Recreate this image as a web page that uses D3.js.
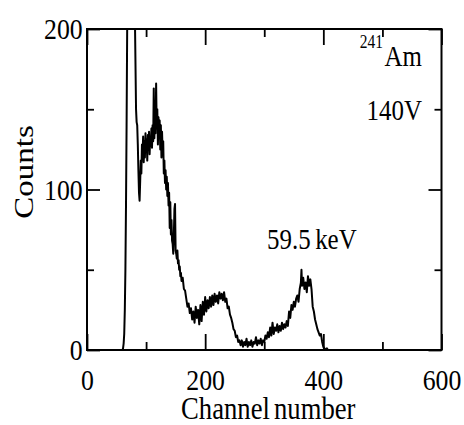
<!DOCTYPE html>
<html>
<head>
<meta charset="utf-8">
<script src="https://cdn.jsdelivr.net/npm/d3@7"></script>
<style>
  body { margin: 0; background: #fff; }
  svg text { font-family: "Liberation Serif", "Times New Roman", serif; fill: #000; }
</style>
</head>
<body>
<div id="chart"></div>
<script>
// spectrum: channel -> counts
const channels = [0, 58, 60, 61, 62, 63, 64, 65, 66, 67, 68, 69, 70, 72, 74, 76, 78, 80, 81, 82, 83, 84, 85, 86, 87, 88, 89,
  90, 91, 92, 93, 94, 95, 96, 97, 98, 99, 100, 101, 102, 103, 104, 105, 106, 107, 108, 109,
  110, 111, 112, 113, 114, 115, 116, 117, 118, 119, 120, 121, 122, 123, 124, 125, 126, 127, 128, 129,
  130, 131, 132, 133, 134, 135, 136, 137, 138, 139, 140, 141, 142, 143, 144, 145, 146, 147, 148, 149,
  150, 151, 152, 153, 154, 155, 156, 157, 158, 159, 160, 162, 164, 166, 168, 170, 172, 174, 176, 178,
  180, 182, 184, 186, 188, 190, 192, 194, 196, 198, 200, 202, 204, 206, 208, 210, 212, 214, 216, 218,
  220, 222, 224, 226, 228, 230, 232, 234, 236, 238, 240, 242, 244, 246, 248, 250, 252, 254, 256, 258,
  260, 262, 264, 266, 268, 270, 272, 274, 276, 278, 280, 282, 284, 286, 288, 290, 292, 294, 296, 298,
  300, 302, 304, 306, 308, 310, 312, 314, 316, 318, 320, 322, 324, 326, 328, 330, 332, 334, 336, 338,
  340, 342, 344, 346, 348, 350, 352, 354, 356, 358, 360, 362, 363, 364, 366, 368, 370, 372, 374, 376, 378,
  380, 382, 384, 386, 388, 390, 392, 394, 396, 398, 400, 402, 404, 406, 408, 600];
const counts = [0, 0, 0, 1, 4, 10, 25, 50, 90, 140, 200, 260, 320, 380, 420, 400, 340, 260, 210, 180, 150, 142, 140, 128, 112, 98, 93,
  105, 118, 110, 128, 122, 133, 117, 130, 120, 135, 124, 131, 118, 134, 125, 136, 122, 133, 127, 138,
  126, 140, 130, 163, 132, 148, 135, 166, 138, 150, 128, 145, 132, 143, 125, 140, 120, 136, 124, 130,
  110, 118, 104, 112, 100, 108, 96, 104, 90, 98, 76, 92, 72, 81, 68, 66, 60, 72, 88, 91,
  62, 60, 57, 62, 54, 56, 50, 52, 46, 48, 43, 45, 38, 37, 32, 27, 29, 23, 26, 19,
  24, 17, 27, 20, 25, 16, 28, 18, 30, 22, 33, 24, 31, 26, 33, 27, 34, 28, 35, 30,
  34, 29, 36, 32, 35, 31, 36, 30, 32, 26, 27, 22, 20, 17, 13, 12, 8, 9, 5, 6,
  3, 6, 2, 5, 3, 7, 2, 5, 3, 6, 2, 5, 4, 8, 3, 6, 4, 7, 3, 6,
  5, 9, 7, 11, 8, 14, 9, 17, 10, 14, 12, 16, 11, 15, 12, 17, 13, 16, 14, 18,
  15, 24, 20, 28, 25, 30, 27, 32, 34, 30, 38, 42, 50, 40, 45, 38, 42, 36, 46, 40, 44,
  38, 27, 24, 19, 16, 13, 11, 9, 10, 5, 2, 1, 0, 1, 0, 0];

const xMajor = [0, 200, 400, 600];
const xMinor = [100, 300, 500];
const yMajor = [0, 100, 200];
const yMinor = [50, 150];

const width = 464, height = 425;
const margin = { top: 29, right: 22.5, bottom: 75, left: 87 };
const innerWidth = width - margin.left - margin.right;
const innerHeight = height - margin.top - margin.bottom;
const squeeze = 0.86; // the original figure is narrowed horizontally

const svg = d3.select("#chart")
  .append("svg")
  .attr("width", width)
  .attr("height", height);

const g = svg.append("g")
  .attr("transform", `translate(${margin.left}, ${margin.top})`);

const xScale = d3.scaleLinear().domain([0, 600]).range([0, innerWidth]);
const yScale = d3.scaleLinear().domain([0, 200]).range([innerHeight, 0]);

g.append("clipPath").attr("id", "plot-clip")
  .append("rect")
  .attr("width", innerWidth)
  .attr("height", innerHeight);

const data = channels.map((c, i) => ({ ch: c, v: counts[i] }));

const line = d3.line()
  .x(d => xScale(d.ch))
  .y(d => yScale(d.v));

g.append("path")
  .datum(data)
  .attr("clip-path", "url(#plot-clip)")
  .attr("fill", "none")
  .attr("stroke", "#000")
  .attr("stroke-width", 2)
  .attr("stroke-linejoin", "round")
  .attr("d", line);

// axes: ticks point inward
function styleAxis(sel) {
  sel.select(".domain").remove();
  sel.selectAll("line").attr("stroke", "#000").attr("stroke-width", 1.8);
}

function noLabels(sel) {
  sel.selectAll("text").remove();
}

g.append("g")
  .attr("transform", `translate(0, ${innerHeight})`)
  .call(d3.axisBottom(xScale).tickValues(xMajor).tickSize(-16).tickPadding(19))
  .call(styleAxis);

g.append("g")
  .attr("transform", `translate(0, ${innerHeight})`)
  .call(d3.axisBottom(xScale).tickValues(xMinor).tickSize(-8))
  .call(styleAxis).call(noLabels);

g.append("g")
  .call(d3.axisTop(xScale).tickValues(xMajor).tickSize(-16))
  .call(styleAxis).call(noLabels);

g.append("g")
  .call(d3.axisTop(xScale).tickValues(xMinor).tickSize(-8))
  .call(styleAxis).call(noLabels);

g.append("g")
  .call(d3.axisLeft(yScale).tickValues(yMajor).tickSize(-13).tickPadding(5))
  .call(styleAxis);

g.append("g")
  .call(d3.axisLeft(yScale).tickValues(yMinor).tickSize(-7))
  .call(styleAxis).call(noLabels);

g.append("g")
  .attr("transform", `translate(${innerWidth}, 0)`)
  .call(d3.axisRight(yScale).tickValues(yMajor).tickSize(-13))
  .call(styleAxis).call(noLabels);

g.append("g")
  .attr("transform", `translate(${innerWidth}, 0)`)
  .call(d3.axisRight(yScale).tickValues(yMinor).tickSize(-7))
  .call(styleAxis).call(noLabels);

g.selectAll(".tick text")
  .attr("font-size", 30)
  .attr("fill", "#000")
  .attr("transform", `scale(${squeeze}, 1)`);

// frame
g.append("rect")
  .attr("width", innerWidth)
  .attr("height", innerHeight)
  .attr("fill", "none")
  .attr("stroke", "#000")
  .attr("stroke-width", 2);

// labels
svg.append("text")
  .attr("transform", `translate(${margin.left + innerWidth / 2 + 4}, 419) scale(${squeeze}, 1)`)
  .attr("text-anchor", "middle")
  .attr("font-size", 31)
  .attr("word-spacing", -3)
  .text("Channel number");

svg.append("text")
  .attr("transform", `translate(33, 172) scale(${squeeze}, 1) rotate(-90)`)
  .attr("text-anchor", "middle")
  .attr("font-size", 33)
  .text("Counts");

svg.append("text")
  .attr("transform", `translate(383, 48) scale(${squeeze}, 1)`)
  .attr("text-anchor", "end")
  .attr("font-size", 18)
  .text("241");

svg.append("text")
  .attr("transform", `translate(422, 66) scale(${squeeze}, 1)`)
  .attr("text-anchor", "end")
  .attr("font-size", 29)
  .text("Am");

svg.append("text")
  .attr("transform", `translate(422, 120) scale(${squeeze}, 1)`)
  .attr("text-anchor", "end")
  .attr("font-size", 29)
  .text("140V");

svg.append("text")
  .attr("transform", `translate(267, 249) scale(${squeeze}, 1)`)
  .attr("font-size", 29)
  .attr("word-spacing", -2)
  .text("59.5 keV");
</script>
</body>
</html>
